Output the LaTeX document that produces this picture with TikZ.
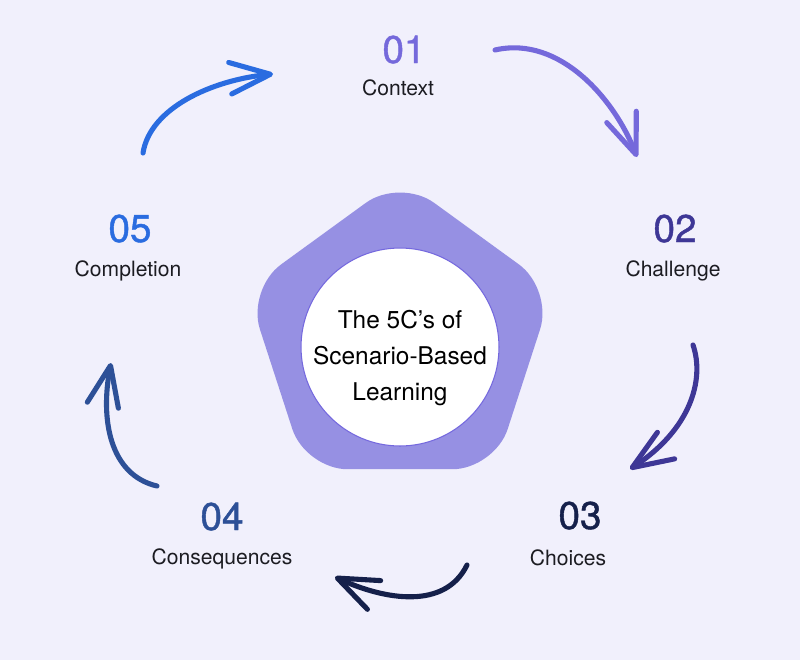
\documentclass[tikz,border=0pt]{standalone}
\usepackage{fontspec}
\setmainfont{TeX Gyre Heros}
\newfontfamily\stepnumfont[FakeBold=1.1]{TeX Gyre Heros}
\usetikzlibrary{arrows.meta,positioning,shapes.geometric}

\definecolor{bgcol}{HTML}{F1F0FC}
\definecolor{pentcol}{HTML}{9690E3}
\definecolor{ringcol}{HTML}{7468DE}
\definecolor{lblcol}{HTML}{1C1C22}
\definecolor{colA}{HTML}{7569DB}
\definecolor{colB}{HTML}{3E3796}
\definecolor{colC}{HTML}{15204A}
\definecolor{colD}{HTML}{2D5097}
\definecolor{colE}{HTML}{2A6CE0}

\begin{document}
\begin{tikzpicture}[x=0.02cm,y=-0.02cm,
  num/.style={font=\stepnumfont\fontsize{22}{26}\selectfont, anchor=base, inner sep=0pt},
  lbl/.style={font=\fontsize{12}{14}\selectfont, text=lblcol, anchor=base, inner sep=0pt},
  cycarrow/.style={line width=2.9pt, line cap=round,
    -{Straight Barb[length=23pt,width=18pt,round]}}]
  \fill[bgcol] (0,0) rectangle (800,660);
  \useasboundingbox (0,0) rectangle (800,660);

  % centre
  \node (penta) [regular polygon, regular polygon sides=5, minimum size=6.44cm,
    inner sep=0pt, outer sep=0pt, fill=pentcol, rounded corners=24pt] at (400,339) {};
  \node (ring) [circle, minimum size=3.96cm, inner sep=0pt, fill=white,
    draw=ringcol, line width=0.6pt] at (400,347) {};
  \node (title) [align=center, font=\fontsize{13.9}{20.4}\selectfont] at (400,358)
    {The 5C’s of\\Scenario-Based\\Learning};

  % steps
  \node[num, text=colA] (n1) at (404,63) {01};
  \node[lbl] (context) at (398,95) {Context};
  \node[num, text=colB] (n2) at (675,242) {02};
  \node[lbl] (challenge) at (673,276) {Challenge};
  \node[num, text=colC] (n3) at (580,529) {03};
  \node[lbl] (choices) at (568,565) {Choices};
  \node[num, text=colD] (n4) at (222,530) {04};
  \node[lbl] (consequences) at (222,564) {Consequences};
  \node[num, text=colE] (n5) at (130,242) {05};
  \node[lbl] (completion) at (128,276) {Completion};

  % arrow ends
  \coordinate (a1s) at (143,153); \coordinate (a1e) at (273,74);
  \coordinate (a2s) at (495,50);  \coordinate (a2e) at (637,157);
  \coordinate (a3s) at (693,345); \coordinate (a3e) at (630,469);
  \coordinate (a4s) at (467,565); \coordinate (a4e) at (335,577);
  \coordinate (a5s) at (157,486); \coordinate (a5e) at (111,363);

  \draw[cycarrow, draw=colE] (a1s) .. controls (150,108) and (212,80) .. (a1e);
  \draw[cycarrow, draw=colA] (a2s) .. controls (560,35) and (615,100) .. (a2e);
  \draw[cycarrow, draw=colB] (a3s) .. controls (705,380) and (690,430) .. (a3e);
  \draw[cycarrow, draw=colC] (a4s) .. controls (445,610) and (385,600) .. (a4e);
  \draw[cycarrow, draw=colD] (a5s) .. controls (110,475) and (100,420) .. (a5e);
\end{tikzpicture}
\end{document}
